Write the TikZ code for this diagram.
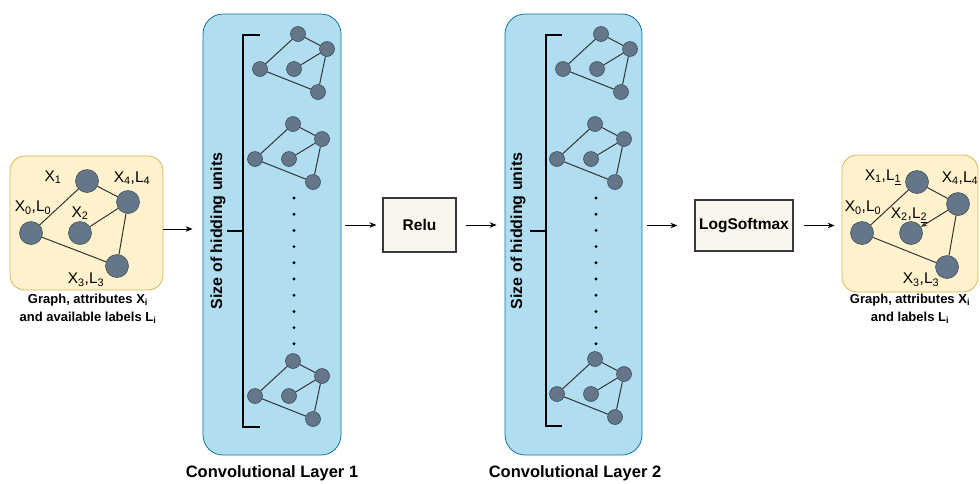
\documentclass[tikz,border=0pt]{standalone}
\usepackage{fontspec}
\setmainfont{Liberation Sans}
\usetikzlibrary{arrows.meta}
\definecolor{yfill}{HTML}{FFF2CC}
\definecolor{ydraw}{HTML}{D6B656}
\definecolor{bfill}{HTML}{B1DDF0}
\definecolor{bdraw}{HTML}{10739E}
\definecolor{nfill}{HTML}{647687}
\definecolor{ndraw}{HTML}{314354}
\definecolor{pfill}{HTML}{F9F7ED}
\definecolor{pdraw}{HTML}{36393D}
\definecolor{edgec}{HTML}{333333}
\tikzset{
  ybox/.style={draw=ydraw, fill=yfill, rounded corners=15pt, line width=0.8pt, inner sep=0pt},
  bbox/.style={draw=bdraw, fill=bfill, rounded corners=20pt, line width=0.8pt, inner sep=0pt},
  pbox/.style={draw=pdraw, fill=pfill, line width=1.2pt, inner sep=0pt, font=\bfseries\fontsize{15.5}{18}\selectfont},
  bignode/.style={circle, fill=nfill, draw=ndraw, line width=0.5pt, minimum size=23pt, inner sep=0pt},
  mnode/.style={circle, fill=nfill, draw=ndraw, line width=0.5pt, minimum size=15pt, inner sep=0pt},
  gedge/.style={draw=edgec, line width=1pt},
  lbl/.style={font=\fontsize{15.5}{17}\selectfont, inner sep=0pt},
  gcaption/.style={font=\bfseries\fontsize{13}{18}\selectfont, align=center, inner sep=0pt},
  laycap/.style={font=\bfseries\fontsize{16.5}{19}\selectfont, inner sep=0pt},
  sizetxt/.style={rotate=90, font=\bfseries\fontsize{16}{19}\selectfont, inner sep=0pt},
  brk/.style={line width=2pt, black},
  arr/.style={-{Stealth[length=7pt,width=5.5pt]}, line width=0.8pt, black},
  minigraph/.pic={
    \node[mnode] (-l) at (0,0) {};
    \node[mnode] (-t) at (38,-35) {};
    \node[mnode] (-r) at (67,-20) {};
    \node[mnode] (-m) at (34,0) {};
    \node[mnode] (-b) at (58,23) {};
    \draw[gedge] (-l) -- (-t) (-t) -- (-r) (-r) -- (-m) (-r) -- (-b) (-l) -- (-b);
  }
}
\begin{document}
\begin{tikzpicture}[x=1pt,y=-1pt]
\useasboundingbox (0,0) rectangle (980,483);

% boxes
\node[ybox, minimum width=153pt, minimum height=134pt] (in) at (86.5,223) {};
\node[bbox, minimum width=138pt, minimum height=441pt] (L1) at (272,234.5) {};
\node[pbox, minimum width=73pt, minimum height=54pt] (relu) at (419.5,225) {Relu};
\node[bbox, minimum width=137pt, minimum height=441pt] (L2) at (573.5,234.5) {};
\node[pbox, minimum width=98pt, minimum height=51pt] (lsm) at (744,225.5) {LogSoftmax};
\node[ybox, minimum width=136pt, minimum height=137pt] (out) at (910,223.5) {};

% input graph
\node[bignode] (a0) at (31,233) {};
\node[bignode] (a1) at (87,181) {};
\node[bignode] (a2) at (80,233) {};
\node[bignode] (a3) at (117,266) {};
\node[bignode] (a4) at (128,202) {};
\draw[gedge] (a0) -- (a1) (a1) -- (a4) (a4) -- (a2) (a4) -- (a3) (a0) -- (a3);
\node[lbl] (la1) at (53,177) {X\textsubscript{1}};
\node[lbl] (la4) at (132,178) {X\textsubscript{4},L\textsubscript{4}};
\node[lbl] (la0) at (33,208) {X\textsubscript{0},L\textsubscript{0}};
\node[lbl] (la2) at (80,213) {X\textsubscript{2}};
\node[lbl] (la3) at (86,280) {X\textsubscript{3},L\textsubscript{3}};
\node[gcaption] (capin) at (88,309) {Graph, attributes X\textsubscript{i}\\and available labels L\textsubscript{i}};

% output graph
\node[bignode] (b0) at (862,233) {};
\node[bignode] (b1) at (917,182) {};
\node[bignode] (b2) at (911,233) {};
\node[bignode] (b3) at (947,267) {};
\node[bignode] (b4) at (958,204) {};
\draw[gedge] (b0) -- (b1) (b1) -- (b4) (b4) -- (b3) (b0) -- (b3);
\draw[gedge, -{Stealth[length=6pt,width=5pt]}] (b4) -- (b2);
\node[lbl] (lb1) at (883,177) {X\textsubscript{1},L\underline{\textsubscript{1}}};
\node[lbl] (lb4) at (960,178) {X\textsubscript{4},L\textsubscript{4}};
\node[lbl] (lb0) at (863,208) {X\textsubscript{0},L\textsubscript{0}};
\node[lbl] (lb2) at (909,215) {X\textsubscript{2},L\underline{\textsubscript{2}}};
\node[lbl] (lb3) at (921,280) {X\textsubscript{3},L\textsubscript{3}};
\node[gcaption] (capout) at (910,309) {Graph, attributes X\textsubscript{i}\\and labels L\textsubscript{i}};

% layer 1 content
\draw[brk] (260,35) -- (243,35) -- (243,427) -- (260,427);
\draw[brk] (243,231) -- (227,231);
\node[sizetxt] (s1) at (218,231) {Size of hidding units};
\pic (g11) at (260,69) {minigraph};
\pic (g12) at (255,159) {minigraph};
\pic (g13) at (255,396) {minigraph};
\foreach \i in {0,...,9} \fill (294,198+16.2*\i) circle (1.6);
\node[laycap] (c1) at (272,473) {Convolutional Layer 1};

% layer 2 content
\draw[brk] (562,35) -- (546,35) -- (546,426) -- (562,426);
\draw[brk] (546,231) -- (530,231);
\node[sizetxt] (s2) at (518,231) {Size of hidding units};
\pic (g21) at (563,69) {minigraph};
\pic (g22) at (557,159) {minigraph};
\pic (g23) at (557,394) {minigraph};
\foreach \i in {0,...,9} \fill (596,198+16.2*\i) circle (1.6);
\node[laycap] (c2) at (575,473) {Convolutional Layer 2};

% arrows
\draw[arr, shorten >=10pt] ([yshift=-6pt]in.east) -- ([yshift=-6pt]in.east -| L1.west);
\draw[arr, shorten <=4pt, shorten >=6pt] (L1.east |- relu.west) -- (relu.west);
\draw[arr, shorten <=9pt, shorten >=8pt] (relu.east) -- (relu.east -| L2.west);
\draw[arr, shorten <=5pt, shorten >=17pt] (L2.east |- lsm.west) -- (lsm.west);
\draw[arr, shorten <=10pt, shorten >=7pt] (lsm.east) -- (lsm.east -| out.west);
\end{tikzpicture}
\end{document}
